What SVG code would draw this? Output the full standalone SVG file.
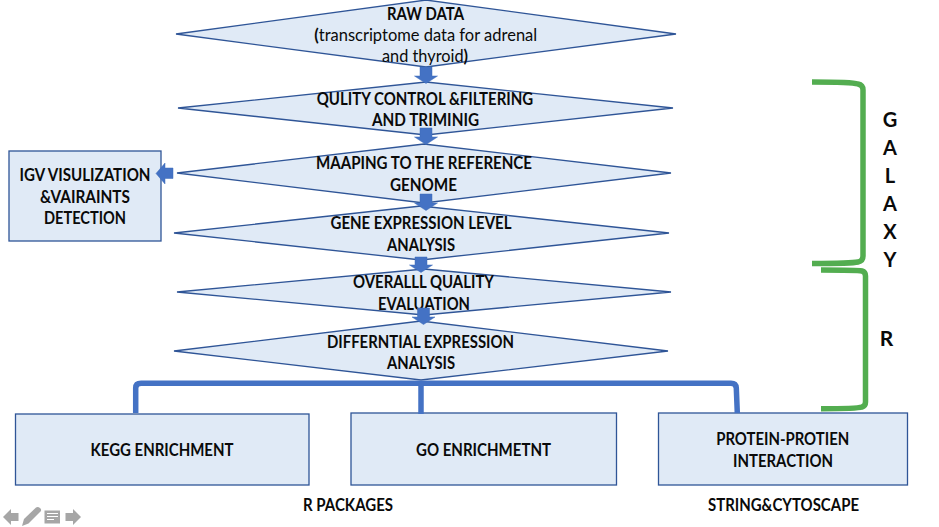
<svg xmlns="http://www.w3.org/2000/svg" width="939" height="527" viewBox="0 0 939 527">
<style>
text{font-family:"Lato","Carlito","Open Sans",sans-serif;font-size:16.500px;font-weight:700;fill:#0a0a0a;text-anchor:middle}
.n{font-weight:400}
.s{fill:#e0eaf6;stroke:#2f5597;stroke-width:1.3}
.a{fill:#4472c4;stroke:#3f6cb8;stroke-width:.5}
.b{fill:none;stroke:#4472c4;stroke-width:5.500}
.g{fill:none;stroke:#53ad50;stroke-width:5.500}
.u{fill:#a6a6a6}
text.l{font-size:20px}
text.r{font-size:21px}
</style>
<rect width="939" height="527" fill="#fff"/>
<g id="node-raw"><polygon class="s" points="176,34 426,0 676,34 426,67"/><text x="425.500" y="19.700" textLength="77" lengthAdjust="spacingAndGlyphs">RAW DATA</text><text x="425.700" y="41.300" textLength="223" lengthAdjust="spacingAndGlyphs"><tspan font-weight="700">(</tspan><tspan class="n">transcriptome data for adrenal</tspan></text><text x="425" y="62.300" textLength="86" lengthAdjust="spacingAndGlyphs"><tspan class="n">and thyroid</tspan><tspan font-weight="700">)</tspan></text></g>
<g id="node-qc"><polygon class="s" points="178,108 426,82 673,108 426,135"/><text x="425" y="104.700" textLength="216.500" lengthAdjust="spacingAndGlyphs">QULITY CONTROL &amp;FILTERING</text><text x="425.500" y="125.700" textLength="107" lengthAdjust="spacingAndGlyphs">AND TRIMINIG</text></g>
<g id="node-map"><polygon class="s" points="177,173 424,144 671,173 424,203"/><text x="424" y="168.700" textLength="216" lengthAdjust="spacingAndGlyphs">MAAPING TO THE REFERENCE</text><text x="423.500" y="190.700" textLength="67" lengthAdjust="spacingAndGlyphs">GENOME</text></g>
<g id="node-gene"><polygon class="s" points="174,233 421,206 669,233 421,260"/><text x="421" y="228.700" textLength="181" lengthAdjust="spacingAndGlyphs">GENE EXPRESSION LEVEL</text><text x="421" y="250.700" textLength="68" lengthAdjust="spacingAndGlyphs">ANALYSIS</text></g>
<g id="node-overall"><polygon class="s" points="177,292 424,269 671,292 424,315"/><text x="423.500" y="288.300" textLength="141" lengthAdjust="spacingAndGlyphs">OVERALLL QUALITY</text><text x="424" y="309.700" textLength="92" lengthAdjust="spacingAndGlyphs">EVALUATION</text></g>
<g id="node-diff"><polygon class="s" points="174,351 421,321 668,351 421,380"/><text x="420.500" y="347.700" textLength="187" lengthAdjust="spacingAndGlyphs">DIFFERNTIAL EXPRESSION</text><text x="421" y="369.300" textLength="68" lengthAdjust="spacingAndGlyphs">ANALYSIS</text></g>
<g id="node-igv"><rect class="s" x="9" y="151" width="152" height="90"/><text x="85" y="181.300" textLength="131" lengthAdjust="spacingAndGlyphs">IGV VISULIZATION</text><text x="85" y="202.700" textLength="90" lengthAdjust="spacingAndGlyphs">&amp;VAIRAINTS</text><text x="85" y="223.700" textLength="82" lengthAdjust="spacingAndGlyphs">DETECTION</text></g>
<g id="node-kegg"><rect class="s" x="15.500" y="414" width="293.500" height="71"/><text x="162" y="456" textLength="143" lengthAdjust="spacingAndGlyphs">KEGG ENRICHMENT</text></g>
<g id="node-go"><rect class="s" x="351" y="413" width="265.500" height="72"/><text x="483.500" y="455.700" textLength="135" lengthAdjust="spacingAndGlyphs">GO ENRICHMETNT</text></g>
<g id="node-ppi"><rect class="s" x="658.500" y="413" width="249" height="72"/><text x="782.700" y="444.700" textLength="133" lengthAdjust="spacingAndGlyphs">PROTEIN-PROTIEN</text><text x="783" y="466.700" textLength="100" lengthAdjust="spacingAndGlyphs">INTERACTION</text></g>
<g id="connectors">
<path class="b" d="M135.700 413V388Q135.700 383.300 141 383.300H731Q736 383.300 736.300 388L737.300 413"/>
<path class="b" d="M421 383V414"/>
<path class="a" d="M420 67h12v9h5.500l-11.500 7.500-11.500-7.500h5.500z"/>
<path class="a" d="M420 128h12v9h5.500l-11.500 7.500-11.500-7.500h5.500z"/>
<path class="a" d="M420 194h12v9h5.500l-11.500 7.500-11.500-7.500h5.500z"/>
<path class="a" d="M415 257h12v8h5.500l-11.500 7.500-11.500-7.500h5.500z"/>
<path class="a" d="M417.500 308h12v9h5.500l-11.500 7.500-11.500-7.500h5.500z"/>
<path class="a" d="M173 168v10.500h-8v5.500l-9-10.500 9-10.500v5z"/>
</g>
<g id="bracket-galaxy"><path class="g" d="M812 82Q852 82 858 84Q863 85 863 90V256Q863 261 858 262Q852 263.500 812 263.500"/></g>
<g id="bracket-r"><path class="g" d="M821 270Q857 270 862 271Q865.500 272 865.500 276V402Q865.500 406 862 407Q857 408.700 821 408.700"/></g>
<g id="label-galaxy"><text class="l" x="890" y="127">G</text><text class="l" x="890" y="155">A</text><text class="l" x="890" y="183">L</text><text class="l" x="890" y="211">A</text><text class="l" x="890" y="239">X</text><text class="l" x="890" y="267">Y</text></g>
<g id="label-r"><text class="r" x="886.500" y="346">R</text></g>
<g id="label-rpackages"><text x="348" y="510.500" textLength="90" lengthAdjust="spacingAndGlyphs">R PACKAGES</text></g>
<g id="label-string"><text x="783.500" y="510.500" textLength="151" lengthAdjust="spacingAndGlyphs">STRING&amp;CYTOSCAPE</text></g>
<g id="toolbar">
<path class="u" d="M3 517l8-8v4h7.500v8h-7.500v4z"/>
<path class="u" d="M24 519l12-11.500q2-1 4 .5t0.500 3.500l-12 12-6.500 2.500z"/>
<rect class="u" x="44.500" y="510.500" width="15.500" height="13"/><path d="M47 513.500h11M47 516.500h11M47 519.500h7" stroke="#fff" stroke-width="1"/>
<path class="u" d="M81 517l-8-8v4h-7.500v8h7.500v4z"/>
</g>
</svg>
